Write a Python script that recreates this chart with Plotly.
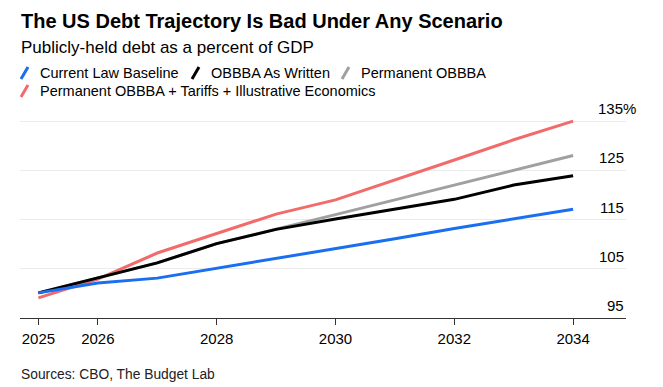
import plotly.graph_objects as go

years = [2025, 2026, 2027, 2028, 2029, 2030, 2031, 2032, 2033, 2034]
current_law = [100.1, 102.1, 103.1, 105.1, 107.0, 109.0, 111.1, 113.2, 115.1, 117.1]
obbba_written = [100.1, 103.1, 106.2, 110.1, 113.0, 115.1, 117.1, 119.1, 122.0, 123.9]
permanent_obbba = [100.1, 103.1, 106.2, 110.1, 113.0, 116.0, 119.0, 122.0, 125.0, 128.0]
perm_tariffs = [99.1, 102.9, 108.2, 112.1, 116.1, 119.0, 123.0, 127.1, 131.2, 135.0]

series_names = ["Current Law Baseline", "OBBBA As Written", "Permanent OBBBA",
                "Permanent OBBBA + Tariffs + Illustrative Economics"]
series_colors = ["#1a6ef0", "#000000", "#a0a0a0", "#f26b6b"]
series_values = [current_law, obbba_written, permanent_obbba, perm_tariffs]

x_ticks = [2025, 2026, 2028, 2030, 2032, 2034]
y_ticks = [95, 105, 115, 125, 135]
y_ticktext = ["95", "105", "115", "125", "135%"]

# page body has an 8px margin; figure is sized to fit the window
OFF = 8
W, H = 663 - OFF, 387 - OFF
# target plot area in window pixels
PX0, PX1, PY0, PY1 = 20, 626, 105, 318.3
L, R, T, B = PX0 - OFF, (W + OFF) - PX1, PY0 - OFF, (H + OFF) - PY1
PW = PX1 - PX0
PH = PY1 - PY0

def px(x):  # window pixel -> paper x
    return (x - PX0) / PW

def py(y):  # window pixel -> paper y
    return (PY1 - y) / PH

fig = go.Figure()
for i in [3, 2, 1, 0]:
    fig.add_trace(go.Scatter(x=years, y=series_values[i], mode="lines",
                             name=series_names[i],
                             line=dict(color=series_colors[i], width=3),
                             showlegend=False, hoverinfo="skip"))

font = "Liberation Sans, Arial, sans-serif"
ann = []
ann.append(dict(text="<b>The US Debt Trajectory Is Bad Under Any Scenario</b>",
                x=px(19), y=py(21), xref="paper", yref="paper", xanchor="left",
                yanchor="middle", showarrow=False,
                font=dict(size=20, color="#000", family=font)))
ann.append(dict(text="Publicly-held debt as a percent of GDP",
                x=px(19), y=py(47), xref="paper", yref="paper", xanchor="left",
                yanchor="middle", showarrow=False,
                font=dict(size=17, color="#000", family=font)))
ann.append(dict(text="Sources: CBO, The Budget Lab",
                x=px(19), y=py(375), xref="paper", yref="paper", xanchor="left",
                yanchor="middle", showarrow=False,
                font=dict(size=13.8, color="#222", family=font)))

# legend
leg_pos = [(20, 73), (191, 73), (341, 73), (20, 91)]
shapes = []
for (lx, ly), name, col in zip(leg_pos, series_names, series_colors):
    shapes.append(dict(type="line", xref="paper", yref="paper",
                       x0=px(lx + 1), y0=py(ly + 6), x1=px(lx + 8), y1=py(ly - 6),
                       line=dict(color=col, width=3)))
    ann.append(dict(text=name, x=px(lx + 18), y=py(ly), xref="paper", yref="paper",
                    xanchor="left", yanchor="middle", showarrow=False,
                    font=dict(size=14.5, color="#000", family=font)))

# y labels above gridlines
for v, t in zip(y_ticks, y_ticktext):
    ann.append(dict(text=t, x=px(626) if not t.endswith("%") else px(638),
                    y=v, xref="paper", yref="y",
                    xanchor="right", yanchor="bottom", yshift=2, showarrow=False,
                    font=dict(size=15, color="#000", family=font)))

fig.update_layout(
    width=W, height=H,
    margin=dict(l=L, r=R, t=T, b=B),
    plot_bgcolor="white", paper_bgcolor="white",
    annotations=ann, shapes=shapes,
    xaxis=dict(range=[2024.69, 2034.89], tickvals=x_ticks,
               ticktext=[str(v) for v in x_ticks],
               showgrid=False, zeroline=False, showline=True,
               linecolor="#333", linewidth=1, ticks="outside", ticklen=6,
               tickcolor="#333", ticklabelstandoff=1,
               tickfont=dict(size=15, color="#000", family=font), fixedrange=True),
    yaxis=dict(range=[95, 95 + PH / 4.93], tickvals=y_ticks[1:],
               showticklabels=False, showgrid=True, gridcolor="#ebebeb",
               gridwidth=1, zeroline=False, showline=False, fixedrange=True),
    showlegend=False,
)

fig.write_html("out.html")
